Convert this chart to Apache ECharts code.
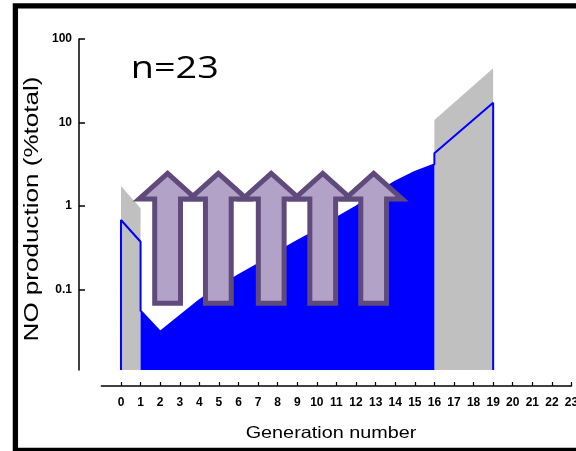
<!DOCTYPE html>
<html><head><meta charset="utf-8">
<script src="https://cdn.jsdelivr.net/npm/echarts@6/dist/echarts.min.js"></script>
<style>html,body{margin:0;padding:0;background:#fff}#c{width:576px;height:451px}</style>
</head><body><div id="c"></div>
<script>
// ---- data ----
const xTickLabels = [0,1,2,3,4,5,6,7,8,9,10,11,12,13,14,15,16,17,18,19,20,21,22,23];
const yTickValues = [0.1, 1, 10, 100];
const yMin = 0.0108, yMax = 100;

// gray ranges (upper bound)
const grayLeftGen = [0, 1];
const grayLeftTop = [1.73, 0.935];
const grayRightGen = [16, 19];
const grayRightTop = [10.7, 44.6];

// blue filled region
const fillGen   = [1, 2, 3, 4, 5, 6, 7, 8, 9, 10, 11, 12, 13, 14, 15, 16];
const fillValue = [0.0555, 0.0311, 0.048, 0.074, 0.107, 0.148, 0.20, 0.28, 0.38, 0.51, 0.72, 0.98, 1.40, 1.95, 2.55, 3.15];

// blue outline pieces (before / after the filled region)
const outlineLeftGen   = [0, 0, 1];
const outlineLeftValue = [yMin, 0.678, 0.372];
const outlineRightGen   = [16, 19, 19];
const outlineRightValue = [4.27, 17.2, yMin];

// arrows (annotation)
const arrowGen = [2.38, 4.97, 7.67, 10.30, 12.90];
const arrowTip = 2.45, arrowBase = 0.068;

// ---- build ----
const L = v => Math.log10(v);
const pairs = (xs, ys) => xs.map((x, i) => [x, L(ys[i])]);

const blueLine = pairs(outlineLeftGen, outlineLeftValue)
  .concat(pairs(fillGen, fillValue))
  .concat(pairs(outlineRightGen, outlineRightValue));

const chart = echarts.init(document.getElementById('c'), null, {renderer: 'canvas'});
const areaSeries = (data, color) => ({
  type: 'line', data, showSymbol: false, silent: true, z: 2,
  lineStyle: {width: 0}, areaStyle: {color, opacity: 1, origin: 'start'}
});

chart.setOption({
  animation: false,
  backgroundColor: '#fff',
  grid: {left: 101.4, right: 4.5, top: 39, bottom: 81, containLabel: false, outerBoundsMode: 'none'},
  xAxis: {
    type: 'value', min: -1, max: 23, offset: 16,
    axisLine: {onZero: false, lineStyle: {color: '#000', width: 1.5}},
    axisTick: {inside: true, length: 4, lineStyle: {color: '#000', width: 1.2}, customValues: xTickLabels},
    axisLabel: {customValues: xTickLabels, color: '#000', fontFamily: 'Liberation Sans', fontWeight: 'bold', fontSize: 12, margin: 11},
    splitLine: {show: false}
  },
  yAxis: {
    type: 'value', min: L(yMin), max: L(yMax), offset: 22.4,
    axisLine: {show: true, onZero: false, lineStyle: {color: '#000', width: 1.5}},
    axisTick: {show: true, inside: true, length: 6, lineStyle: {color: '#000', width: 1.5}, customValues: yTickValues.map(L)},
    axisLabel: {customValues: yTickValues.map(L), color: '#000', fontFamily: 'Liberation Sans', fontWeight: 'bold', fontSize: 12, margin: 7,
      formatter: v => String(+Math.pow(10, v).toPrecision(3))},
    splitLine: {show: false}
  },
  series: [
    areaSeries(pairs(grayLeftGen, grayLeftTop), '#c0c0c0'),
    areaSeries(pairs(grayRightGen, grayRightTop), '#c0c0c0'),
    areaSeries(pairs(fillGen, fillValue), '#0000ff'),
    {type: 'line', data: blueLine, showSymbol: false, silent: true, z: 3, lineStyle: {color: '#0000ff', width: 2}},
    {
      type: 'custom', clip: false, silent: true, z: 10,
      data: arrowGen.map(g => [g, L(arrowTip), L(arrowBase)]),
      renderItem: (params, api) => {
        const tip = api.coord([api.value(0), api.value(1)]);
        const bot = api.coord([api.value(0), api.value(2)]);
        const x = tip[0], yt = tip[1], yb = bot[1];
        const hd = 25.5, hh = 28.5, sh = 12.9;
        return {
          type: 'polygon',
          shape: {points: [[x, yt], [x + hh, yt + hd], [x + sh, yt + hd], [x + sh, yb], [x - sh, yb], [x - sh, yt + hd], [x - hh, yt + hd]]},
          style: {fill: '#b3a2c7', stroke: '#604a7b', lineWidth: 5, lineJoin: 'miter'}
        };
      }
    }
  ],
  graphic: [
    {type: 'rect', shape: {x: 15.4, y: 5.8, width: 640, height: 444.5}, style: {fill: 'none', stroke: '#000', lineWidth: 5.3}, z: 100},
    {type: 'text', x: 32, y: 209, rotation: Math.PI / 2, scaleX: 1.24,
      style: {text: 'NO production (%total)', font: '21px "Liberation Sans"', fill: '#000', align: 'center', verticalAlign: 'middle'}},
    {type: 'text', x: 331, y: 433, scaleX: 1.2,
      style: {text: 'Generation number', font: '16.5px "Liberation Sans"', fill: '#000', align: 'center', verticalAlign: 'middle'}},
    {type: 'text', x: 130.7, y: 69, scaleX: 1.22,
      style: {text: 'n=23', font: '31px "Open Sans"', fill: '#000', align: 'left', verticalAlign: 'middle'}}
  ]
});
</script></body></html>
